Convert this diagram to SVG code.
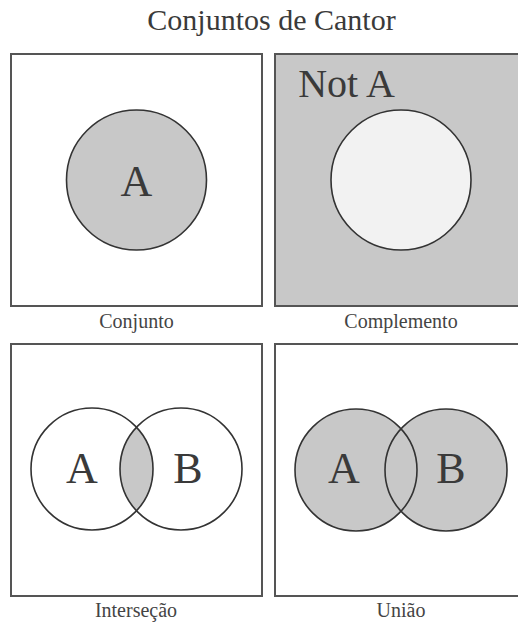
<svg xmlns="http://www.w3.org/2000/svg" width="518" height="623" viewBox="0 0 518 623">
<style>
.panel{stroke:#555;stroke-width:2}
.set{stroke:#333;stroke-width:1.6}
.gray{fill:#c8c8c8}
text{font-family:"Liberation Serif","Times New Roman",serif;fill:#3a3a3a;text-anchor:middle}
.lbl{font-size:20px;fill:#444}
.big{font-size:44px}
</style>
<rect width="518" height="623" fill="#fff"/>
<text id="title" x="271.5" y="30" font-size="30">Conjuntos de Cantor</text>
<g id="conjunto">
<rect class="panel" x="11" y="54" width="251" height="252" fill="#fff"/>
<circle class="set gray" cx="136.5" cy="180" r="70"/>
<text class="big" x="136.5" y="196">A</text>
<text class="lbl" x="136.5" y="328">Conjunto</text>
</g>
<g id="complemento">
<rect class="panel" x="275" y="54" width="260" height="252" fill="#c8c8c8"/>
<circle class="set" cx="401" cy="180" r="70" fill="#f2f2f2"/>
<text x="346.5" y="97" font-size="40">Not A</text>
<text class="lbl" x="401" y="328">Complemento</text>
</g>
<g id="intersecao">
<rect class="panel" x="11" y="344" width="251" height="252" fill="#fff"/>
<path class="gray" d="M136.5,427.3 A61,61 0 0,1 136.5,510.7 A61,61 0 0,1 136.5,427.3 Z"/>
<circle class="set" cx="92" cy="469" r="61" fill="none"/>
<circle class="set" cx="181" cy="469" r="61" fill="none"/>
<text class="big" x="82" y="483">A</text>
<text class="big" x="188" y="483">B</text>
<text class="lbl" x="136" y="617">Interseção</text>
</g>
<g id="uniao">
<rect class="panel" x="275" y="344" width="260" height="252" fill="#fff"/>
<circle class="gray" cx="356" cy="470" r="61"/>
<circle class="gray" cx="446" cy="470" r="61"/>
<circle class="set" cx="356" cy="470" r="61" fill="none"/>
<circle class="set" cx="446" cy="470" r="61" fill="none"/>
<text class="big" x="344" y="483">A</text>
<text class="big" x="451" y="483">B</text>
<text class="lbl" x="401" y="617">União</text>
</g>
<g id="connectors"/>
</svg>
